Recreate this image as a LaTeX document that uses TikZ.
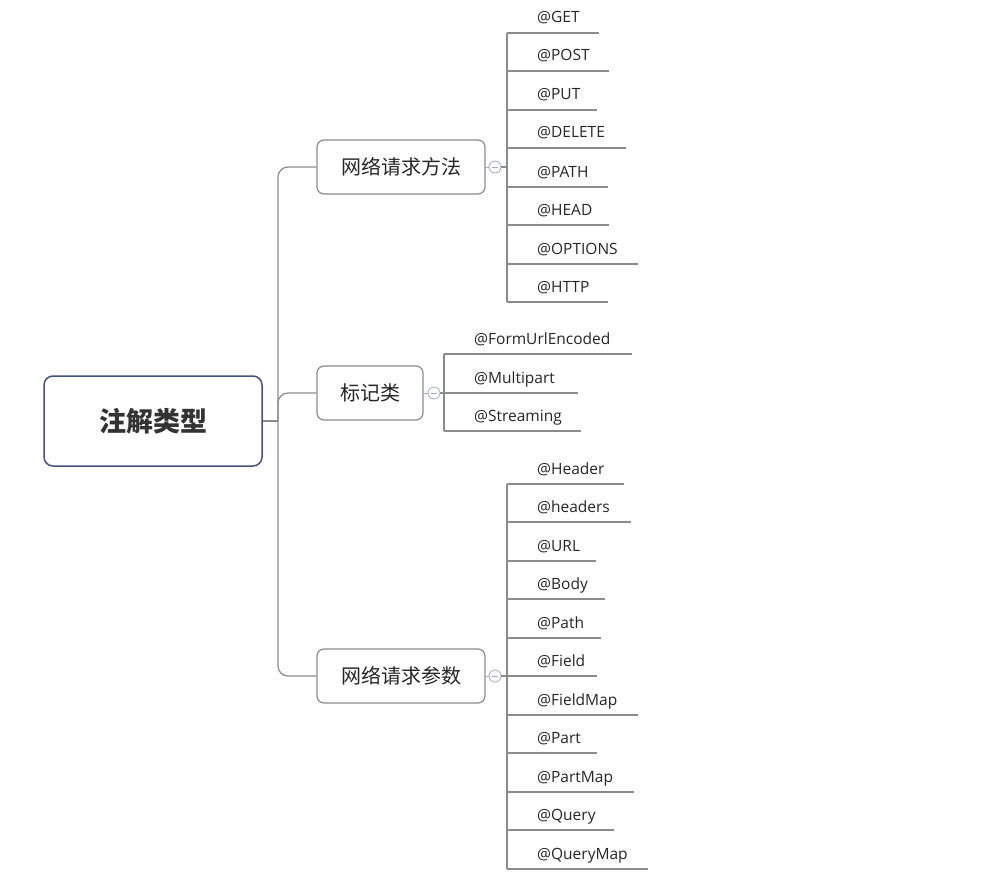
\documentclass[tikz,border=0pt]{standalone}
\usepackage{fontspec}
\setmainfont{Open Sans}
\newfontfamily\cjk{Noto Sans CJK SC}
\definecolor{ln}{RGB}{140,140,140}
\definecolor{tg}{RGB}{160,170,215}
\definecolor{rb}{RGB}{70,80,130}
\begin{document}
\begin{tikzpicture}[x=1pt,y=-1pt,
  conn/.style={draw=ln,line width=1.2pt},
  mid/.style={draw=ln,line width=1.2pt,rounded corners=7pt,minimum height=54pt,font=\cjk\fontsize{20}{24}\selectfont,text=black!85},
  leaf/.style={anchor=base west,font=\fontsize{15.5}{18}\selectfont,text=black!85,inner sep=0pt},
  tog/.style={circle,draw=tg,line width=0.8pt,minimum size=12pt,inner sep=0pt,fill=white}]
\useasboundingbox (0,0) rectangle (985,880);
\node[draw=rb,line width=1.5pt,rounded corners=9pt,minimum width=218pt,minimum height=90pt,font=\cjk\bfseries\fontsize{27}{30}\selectfont,text=black!80] (root) at (153,421) {注解类型};
\node[mid,minimum width=168pt] (m1) at (401,167) {网络请求方法};
\node[mid,minimum width=106pt] (m2) at (370,393) {标记类};
\node[mid,minimum width=168pt] (m3) at (401,676) {网络请求参数};
\coordinate (tj) at (278,421);
\draw[conn] (root.east) -- (tj);
\draw[conn,rounded corners=10pt] (m1.west) -| (tj) |- (m3.west);
\draw[conn,rounded corners=10pt] (tj) |- (m2.west);
\node[tog] (t1) at (495,167) {};
\node[tog] (t2) at (434,393) {};
\node[tog] (t3) at (495,676) {};
\foreach \t in {t1,t2,t3}{\draw[tg,line width=0.8pt] ([xshift=-3pt]\t.center)--([xshift=3pt]\t.center);}
\draw[tg,line width=0.8pt] (m1.east)--(t1.west) (m2.east)--(t2.west) (m3.east)--(t3.west);
\coordinate (v1) at (507,167);
\draw[conn] (t1.east)--(v1);
\foreach \n/\y/\w [count=\i] in {@GET/33/92,@POST/71/102,@PUT/110/90,@DELETE/148/119,@PATH/187/101,@HEAD/225/102,@OPTIONS/264/131,@HTTP/302/101}{
  \node[leaf] (a\i) at (537,\y-10) {\n};
  \draw[conn] (507,\y) -- ++(\w,0);
}
\draw[conn] (507,33)--(507,302);
\coordinate (v2) at (444,393);
\draw[conn] (t2.east)--(v2);
\foreach \n/\y/\w [count=\i] in {@FormUrlEncoded/354/188,@Multipart/393/134,@Streaming/431/137}{
  \node[leaf] (b\i) at (474,\y-10) {\n};
  \draw[conn] (444,\y) -- ++(\w,0);
}
\draw[conn] (444,354)--(444,431);
\coordinate (v3) at (507,676);
\draw[conn] (t3.east)--(v3);
\foreach \n/\y/\w [count=\i] in {@Header/484/117,@headers/522/124,@URL/561/89,@Body/599/98,@Path/638/94,@Field/676/90,@FieldMap/715/131,@Part/753/90,@PartMap/792/127,@Query/830/107,@QueryMap/869/141}{
  \node[leaf] (c\i) at (537,\y-10) {\n};
  \draw[conn] (507,\y) -- ++(\w,0);
}
\draw[conn] (507,484)--(507,869);
\end{tikzpicture}
\end{document}
